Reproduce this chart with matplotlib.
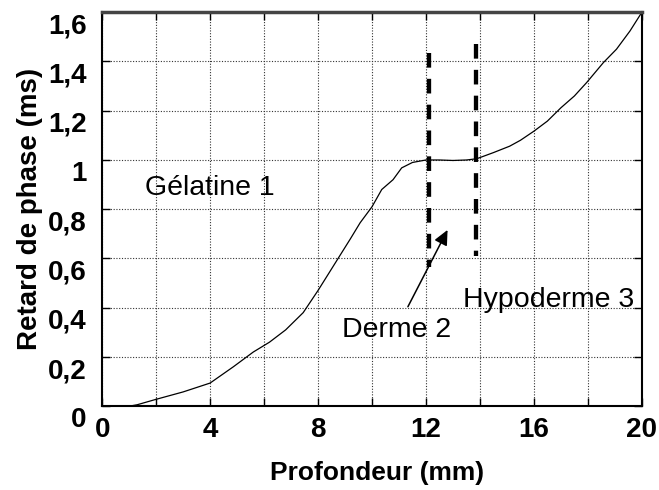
import matplotlib
matplotlib.use('Agg')
import matplotlib.pyplot as plt
import matplotlib.transforms as mtransforms
from matplotlib.ticker import MultipleLocator, FuncFormatter

plt.rcParams['font.family'] = ['Liberation Sans', 'DejaVu Sans']

# phase delay vs depth
depth = [0, 1.0, 1.3, 2.0, 3.0, 4.0, 4.86, 5.6, 6.2, 6.8, 7.45, 8.0, 8.4, 8.8,
         9.2, 9.56, 10.0, 10.36, 10.78, 11.1, 11.5, 12.0, 12.5, 13.0, 13.5,
         13.88, 14.5, 15.1, 15.5, 16.0, 16.5, 17.0, 17.5, 17.95, 18.57, 19.06,
         19.56, 20.0]
delay = [0, 0.0, 0.006, 0.028, 0.058, 0.094, 0.16, 0.22, 0.26, 0.31, 0.38,
         0.47, 0.54, 0.61, 0.68, 0.745, 0.81, 0.88, 0.92, 0.968, 0.99, 1.0,
         1.0, 0.998, 1.0, 1.005, 1.03, 1.056, 1.08, 1.117, 1.158, 1.212, 1.26,
         1.314, 1.395, 1.45, 1.524, 1.6]

# layer boundaries (x, y_low, y_high)
bound_x = [12.1, 13.87]
bound_lo = [0.565, 0.61]
bound_hi = [1.435, 1.47]

layer_names = ['Gélatine 1', 'Derme 2', 'Hypoderme 3']
layer_pos = [(1.6, 0.886), (8.9, 0.31), (13.37, 0.43)]

fig = plt.figure(figsize=(6.59, 4.90), dpi=100)
ax = fig.add_axes([0.155, 0.171, 0.819, 0.804])

ax.plot(depth, delay, color='black', lw=0.9)
for bx, lo, hi in zip(bound_x, bound_lo, bound_hi):
    # drawn top-down so the dash pattern starts at the top
    ax.plot([bx, bx], [hi, lo], color='black', lw=3.1, dashes=(3.4, 2.6),
            solid_capstyle='butt', dash_capstyle='butt')

for name, (tx, ty) in zip(layer_names, layer_pos):
    ax.text(tx, ty, name, fontsize=20.5, va='center', ha='left')

ax.annotate('', xy=(12.8, 0.716), xytext=(11.33, 0.404),
            arrowprops=dict(arrowstyle='-|>,head_length=0.9,head_width=0.42',
                            color='black', lw=1.1, shrinkA=0, shrinkB=0))

ax.set_xlim(0, 20)
ax.set_ylim(0, 1.6)
ax.xaxis.set_major_locator(MultipleLocator(2))
ax.yaxis.set_major_locator(MultipleLocator(0.2))
ax.xaxis.set_major_formatter(FuncFormatter(
    lambda v, p: f'{v:.0f}' if round(v) % 4 == 0 else ''))
ax.yaxis.set_major_formatter(FuncFormatter(
    lambda v, p: f'{v:.1f}'.rstrip('0').rstrip('.').replace('.', ',')))

ax.grid(True, color='#333333', linestyle=(0, (1, 1.5)), lw=0.8)
ax.tick_params(direction='in', length=6, width=1, top=True, right=True,
               labelsize=20)
ax.tick_params(axis='x', pad=8)
ax.tick_params(axis='y', pad=11)
for lab in ax.get_xticklabels() + ax.get_yticklabels():
    lab.set_fontweight('bold')
shift = mtransforms.ScaledTranslation(0, -8 / 72, fig.dpi_scale_trans)
for lab in ax.get_yticklabels():
    lab.set_transform(lab.get_transform() + shift)

for side in ['left', 'bottom', 'right']:
    ax.spines[side].set_linewidth(1.5)
ax.spines['top'].set_linewidth(2.5)
ax.spines['top'].set_color('#444444')

ax.set_xlabel('Profondeur (mm)', fontsize=19, fontweight='bold')
ax.set_ylabel('Retard de phase (ms)', fontsize=20, fontweight='bold')
ax.xaxis.set_label_coords(0.51, -0.14)
ax.yaxis.set_label_coords(-0.11, 0.5)

fig.savefig('out.png', dpi=100)
